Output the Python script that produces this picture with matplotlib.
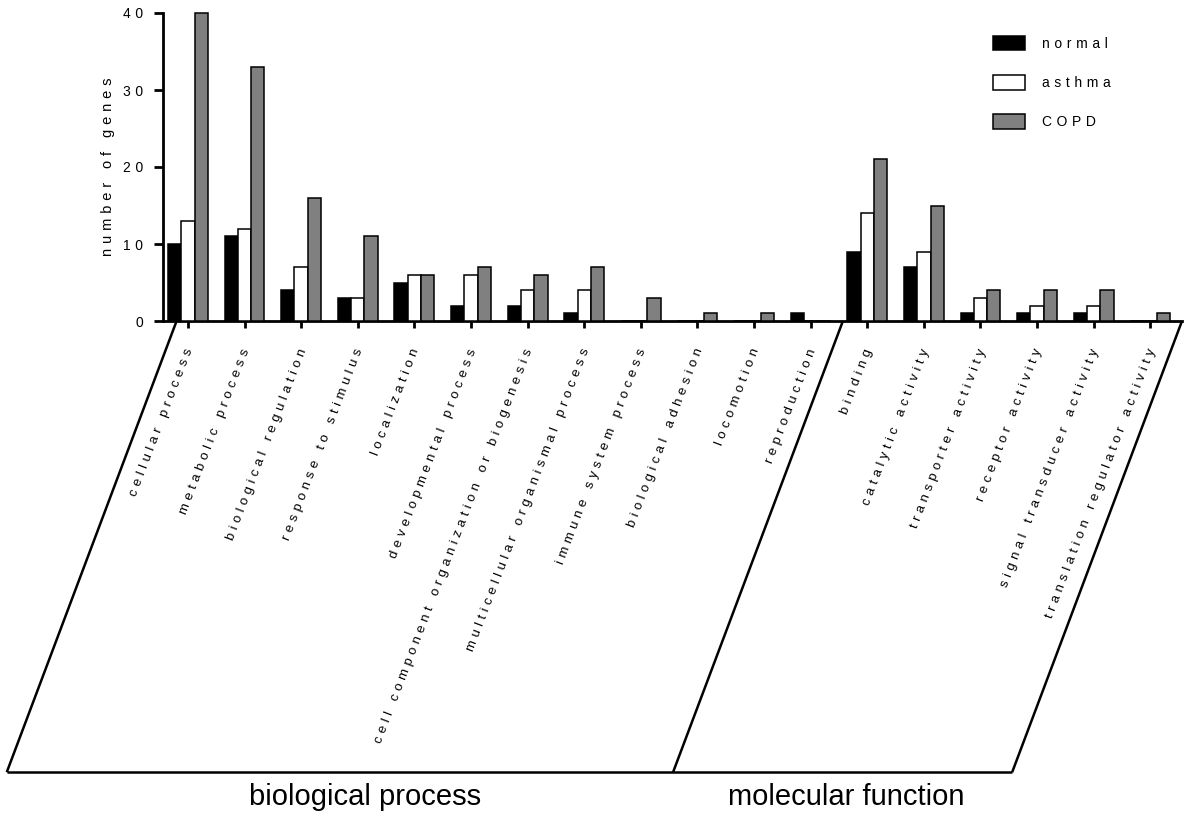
import numpy as np
import matplotlib
matplotlib.use("Agg")
import matplotlib.pyplot as plt
from matplotlib.transforms import ScaledTranslation

plt.rcParams['font.family'] = ['Liberation Sans', 'DejaVu Sans']

# data
categories = ["cellular process", "metabolic process", "biological regulation",
              "response to stimulus", "localization", "developmental process",
              "cell component organization or biogenesis",
              "multicellular organismal process", "immune system process",
              "biological adhesion", "locomotion", "reproduction",
              "binding", "catalytic activity", "transporter activity",
              "receptor activity", "signal transducer activity",
              "translation regulator activity"]
normal = [10, 11, 4, 3, 5, 2, 2, 1, 0, 0, 0, 1, 9, 7, 1, 1, 1, 0]
asthma = [13, 12, 7, 3, 6, 6, 4, 4, 0, 0, 0, 0, 14, 9, 3, 2, 2, 0]
copd = [40, 33, 16, 11, 6, 7, 6, 7, 3, 1, 1, 0, 21, 15, 4, 4, 4, 1]
series_names = ["normal", "asthma", "COPD"]
groups = ["biological process", "molecular function"]
yticks = [0, 10, 20, 30, 40]

TR = '\u2004'  # three-per-em space used as letter tracking


def spaced(s, tr=TR):
    # letter-spaced text like the original
    return (tr + ' ' + tr).join(tr.join(w) for w in s.split())


W, H = 1187, 814
fig = plt.figure(figsize=(W / 100, H / 100), dpi=100)
ax = fig.add_axes([163 / W, 1 - 321 / H, (1182 - 163) / W, (321 - 13) / H])

x = np.arange(len(categories))
bw = 0.235
colors = ['black', 'white', '#808080']
for k, (vals, c, name) in enumerate(zip([normal, asthma, copd], colors, series_names)):
    ax.bar(x + (k - 1) * bw, vals, bw, color=c, edgecolor='black', linewidth=1.1,
           clip_on=False, label=spaced(name), zorder=3)

ax.set_xlim(-0.44, 17.56)
ax.set_ylim(0, 40)
for s in ['top', 'right']:
    ax.spines[s].set_visible(False)
for s in ['left', 'bottom']:
    ax.spines[s].set_linewidth(2.0)
ax.set_yticks(yticks)
ax.set_yticklabels([TR.join(str(t)) for t in yticks])
ax.set_xticks(x)
ax.tick_params(axis='y', direction='out', length=6.5, width=2, labelsize=10, pad=8)
ax.tick_params(axis='x', direction='out', length=5, width=2, labelbottom=False)

ax.set_ylabel(spaced("number of genes"), fontsize=10.5)
ax.yaxis.set_label_coords(-0.047, 0.5)

# rotated category labels
offset = ScaledTranslation(2 / 100, -28 / 100, fig.dpi_scale_trans)
for i, name in enumerate(categories):
    ax.text(i, 0, spaced(name), rotation=69, rotation_mode='anchor', ha='right',
            va='center', fontsize=9.5, transform=ax.transData + offset)

# slanted boxes below the axis
depth = -58.6
shift = 3.0
edges = [-0.2, 11.57, 17.56]
for xe in edges:
    ax.plot([xe, xe - shift], [0, depth], color='black', lw=1.8, clip_on=False,
            solid_capstyle='butt')
ax.plot([edges[0] - shift, edges[-1] - shift], [depth, depth], color='black', lw=1.8,
        clip_on=False, solid_capstyle='butt')
group_x = [3.13, 11.63]
for g, gx in zip(groups, group_x):
    ax.text(gx, depth - 3.2, g, ha='center', va='center', fontsize=21,
            clip_on=False)

ax.legend(loc='upper left', bbox_to_anchor=(993 / W, 1 - 36 / H),
          bbox_transform=fig.transFigure, frameon=False, fontsize=10,
          handlelength=2.3, handleheight=1.22, handletextpad=1.22,
          labelspacing=1.75, borderpad=0, borderaxespad=0)

fig.savefig("out.png", dpi=100)
